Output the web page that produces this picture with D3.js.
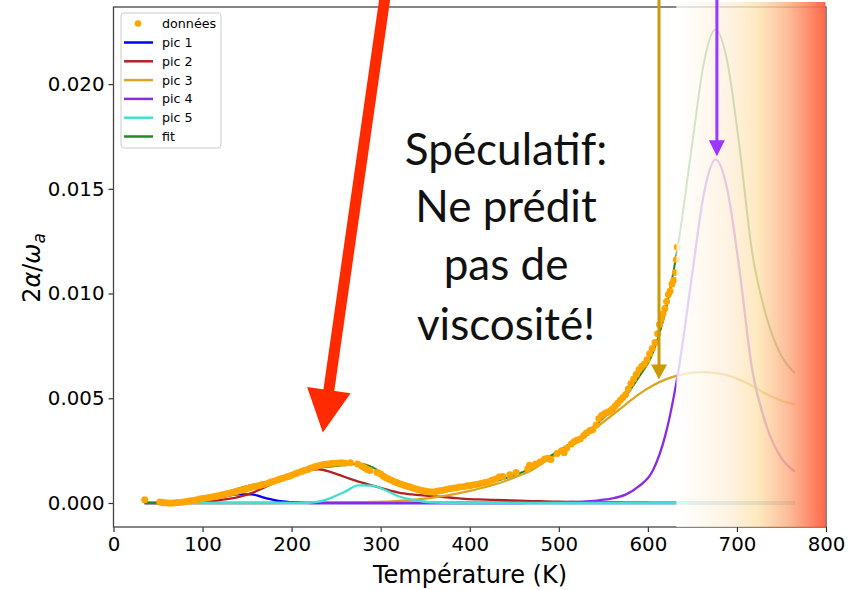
<!DOCTYPE html>
<html>
<head>
<meta charset="utf-8">
<script src="https://cdn.jsdelivr.net/npm/d3@7"></script>
<style>
body{margin:0;background:#fff}
svg{display:block}
</style>
</head>
<body>
<svg id="chart" width="852" height="590"></svg>
<script>
// grille de température commune aux pics (K)
const temps = [35,50,65,80,95,110,125,140,155,170,185,200,215,230,245,260,275,290,305,320,335,350,365,380,395,410,425,440,455,470,485,500,515,530,545,560,575,590,605,620,635,650,663,676,689,702,717,733,749,765];
const pic1 = [0,0,0.00001,0.00004,0.0001,0.0002,0.00031,0.00041,0.00041,0.00024,0.0001,0.00004,0.00001,0,0,0,0,0,0,0,0,0,0,0,0,0,0,0,0,0,0,0,0,0,0,0,0,0,0,0,0,0,0,0,0,0,0,0,0,0];
const pic2 = [0,0,0.00001,0.00002,0.00004,0.00009,0.00017,0.00028,0.00047,0.00075,0.00106,0.00135,0.00157,0.00161,0.00146,0.00124,0.00102,0.00084,0.00066,0.0005,0.00041,0.00035,0.0003,0.00025,0.0002,0.00017,0.00015,0.00013,0.00011,0.00009,0.00008,0.00006,0.00005,0.00004,0.00003,0.00003,0.00002,0.00002,0.00001,0.00001,0.00001,0,0,0,0,0,0,0,0,0];
const pic3 = [0,0,0,0,0,0,0,0,0,0,0,0.00001,0.00001,0.00002,0.00002,0.00003,0.00004,0.00005,0.00006,0.0001,0.00015,0.00021,0.0003,0.0004,0.00053,0.00068,0.00085,0.00105,0.0013,0.00158,0.002,0.0024,0.0028,0.0032,0.0037,0.0042,0.0047,0.0052,0.0056,0.0059,0.0061,0.00622,0.00625,0.0062,0.0061,0.0059,0.0056,0.0052,0.0049,0.0047];
const pic4 = [0,0,0,0,0,0,0,0,0,0,0,0,0,0,0,0,0,0,0,0,0,0,0,0,0,0,0,0,0,0.00001,0.00002,0.00003,0.00005,0.00008,0.00013,0.00022,0.0004,0.0008,0.0015,0.0033,0.0065,0.011,0.0148,0.0164,0.015,0.0114,0.0064,0.0037,0.0022,0.0015];
const pic5 = [0,0,0,0,0,0,0,0,0,0,0,0,0,0.00006,0.00026,0.00054,0.00084,0.00083,0.00062,0.00032,0.00016,0.00006,0.00002,0,0,0,0,0,0,0,0,0,0,0,0,0,0,0,0,0,0,0,0,0,0,0,0,0,0,0];
const fit = [0,0,0.00002,0.00006,0.00014,0.00029,0.00048,0.00069,0.00086,0.00097,0.00114,0.0014,0.00159,0.00169,0.00174,0.00181,0.00188,0.00172,0.00134,0.00092,0.00072,0.00062,0.00062,0.00065,0.00073,0.00085,0.001,0.00118,0.00141,0.00168,0.0021,0.00249,0.0029,0.00332,0.00386,0.00445,0.00512,0.00602,0.00711,0.00921,0.01261,0.01722,0.02105,0.0226,0.0211,0.0173,0.012,0.0089,0.0071,0.0062];

// données mesurées [T (K), 2α/ωa]
const donnees = [[35,0.00015],[52,0.00005],[55,0.00002],[58,0.00001],[61,0],[64,-0.00001],[67,0],[70,0.00001],[73,0.00002],[76,0.00003],[79,0.00005],[82,0.00007],[85,0.00009],[88,0.00011],[91,0.00013],[94,0.00016],[97,0.00019],[100,0.00021],[103,0.00023],[106,0.00025],[109,0.00027],[112,0.0003],[115,0.00032],[118,0.00035],[121,0.00038],[124,0.00041],[127,0.00044],[130,0.00047],[133,0.0005],[136,0.00053],[139,0.00056],[142,0.0006],[145,0.00063],[148,0.00066],[151,0.0007],[154,0.00074],[157,0.00077],[160,0.0008],[164,0.00084],[167,0.00088],[170,0.0009],[174,0.00096],[177,0.001],[180,0.00104],[184,0.0011],[187,0.00114],[190,0.00118],[194,0.00124],[197,0.00128],[200,0.00132],[204,0.0014],[207,0.00144],[211,0.0015],[214,0.00155],[218,0.0016],[221,0.00166],[225,0.00172],[228,0.00176],[232,0.0018],[236,0.00184],[240,0.00186],[244,0.00189],[248,0.0019],[252,0.00191],[256,0.00192],[260,0.0019],[266,0.00192],[274,0.00186],[279,0.00176],[282,0.00168],[285,0.0016],[288,0.00155],[296,0.00145],[300,0.00138],[303,0.00128],[306,0.0012],[309,0.00115],[312,0.00108],[315,0.00103],[318,0.00098],[321,0.00092],[324,0.00088],[327,0.00083],[330,0.0008],[333,0.00076],[336,0.00072],[339,0.00068],[342,0.00065],[345,0.00061],[348,0.00059],[351,0.00056],[354,0.00054],[357,0.00053],[360,0.00053],[363,0.00056],[366,0.00058],[369,0.0006],[373,0.00064],[377,0.00068],[381,0.0007],[385,0.00073],[389,0.00076],[393,0.00078],[397,0.00082],[401,0.00084],[405,0.00087],[409,0.0009],[413,0.00094],[417,0.00098],[421,0.00102],[425,0.00108],[429,0.00114],[433,0.00124],[437,0.00126],[445,0.00135],[452,0.00145],[465,0.00162],[467,0.0018],[470,0.00176],[474,0.00186],[479,0.00196],[484,0.0021],[488,0.00214],[491,0.00208],[498,0.00236],[503,0.0025],[506,0.0024],[509,0.00262],[514,0.00282],[517,0.00292],[520,0.003],[524,0.00306],[528,0.00322],[531,0.00334],[535,0.00346],[538,0.0035],[542,0.00372],[545,0.00404],[548,0.00418],[551,0.00426],[554,0.00432],[557,0.00438],[560,0.00448],[563,0.00462],[566,0.00476],[569,0.0049],[572,0.00504],[575,0.00518],[578,0.00544],[581,0.0057],[584,0.00592],[587,0.00614],[590,0.00636],[593,0.00652],[596,0.00664],[599,0.00684],[602,0.00712],[605,0.00738],[608,0.00766],[611,0.00808],[613,0.00852],[615,0.00878],[617,0.00904],[619,0.00928],[621,0.00962],[623,0.00996],[625,0.01012],[627,0.01046],[629,0.01064],[631,0.011],[632,0.01162],[633,0.01222]];

const xTicks = [0,100,200,300,400,500,600,700,800];
const yTicks = [0,0.005,0.01,0.015,0.02];
const seriesNames = ['pic 1','pic 2','pic 3','pic 4','pic 5','fit'];
const annotation = ['Spéculatif:','Ne prédit','pas de','viscosité!'];

const colors = {'pic 1':'#0000ff','pic 2':'#b22222','pic 3':'#daa520','pic 4':'#8a2be2','pic 5':'#40e0d0','fit':'#228b22'};
const seriesValues = {'pic 1':pic1,'pic 2':pic2,'pic 3':pic3,'pic 4':pic4,'pic 5':pic5,'fit':fit};

let svg = d3.select('#chart');
let x = d3.scaleLinear().domain([0, 800]).range([113.5, 826]);
let y = d3.scaleLinear().domain([-0.001146, 0.02368]).range([527, 7]);

// dégradé "zone spéculative"
let defs = svg.append('defs');
let grad = defs.append('linearGradient').attr('id','heat').attr('x1',0).attr('x2',1).attr('y1',0).attr('y2',0);
[[0,'#ffffff',0.8],[0.35,'#fef0dc',0.8],[0.55,'#fde2ae',0.8],[0.75,'#fcb088',0.85],[1,'#ff5a38',0.92]].forEach(s=>{
    grad.append('stop').attr('offset',s[0]).attr('stop-color',s[1]).attr('stop-opacity',s[2]);
});

// axes
let gx = svg.append('g').attr('transform','translate(0,527)')
    .call(d3.axisBottom(x).tickValues(xTicks).tickSize(5).tickPadding(5).tickFormat(d3.format('d')));
let gy = svg.append('g').attr('transform','translate(113.5,0)')
    .call(d3.axisLeft(y).tickValues(yTicks).tickSize(5).tickPadding(4).tickFormat(d3.format('.3f')));
[gx, gy].forEach(g=>{
    g.attr('font-family','DejaVu Sans').attr('font-size',19.8);
    g.select('.domain').remove();
    g.selectAll('line').attr('stroke','#333').attr('stroke-width',1.2);
    g.selectAll('text').attr('fill','#000');
});

// pics + fit
let plot = svg.append('g');
let line = d3.line().x((d,i)=>x(temps[i])).y(d=>y(d)).curve(d3.curveMonotoneX);
seriesNames.forEach(n=>{
    plot.append('path').datum(seriesValues[n])
        .attr('d',line).attr('fill','none')
        .attr('stroke',colors[n]).attr('stroke-width', n=='fit' ? 2 : 2.3);
});

// données
plot.selectAll('circle.pt').data(donnees).enter().append('circle')
    .attr('class','pt')
    .attr('cx',d=>x(d[0])).attr('cy',d=>y(d[1])).attr('r',3.5)
    .attr('fill','#ffa500');

// cadre
svg.append('rect').attr('x',113.5).attr('y',7).attr('width',826-113.5).attr('height',520)
    .attr('fill','none').attr('stroke','#444').attr('stroke-width',1.3);

// voile sur la zone T > 632 K
svg.append('rect').attr('x',x(632)).attr('y',2).attr('width',825.5-x(632)).attr('height',525)
    .attr('fill','url(#heat)');

// légende
let lg = svg.append('g').attr('font-family','DejaVu Sans').attr('font-size',12.7);
lg.append('rect').attr('x',121).attr('y',13).attr('width',100).attr('height',135).attr('rx',3)
    .attr('fill','#fff').attr('fill-opacity',0.8).attr('stroke','#ccc');
lg.append('circle').attr('cx',138).attr('cy',23.5).attr('r',3.3).attr('fill','#ffa500');
lg.append('text').attr('x',162).attr('y',23.5).attr('dy','0.35em').text('données');
seriesNames.forEach((n,i)=>{
    let yy = 42.5 + i*18.8;
    lg.append('line').attr('x1',124).attr('x2',153).attr('y1',yy).attr('y2',yy)
        .attr('stroke',colors[n]).attr('stroke-width',2.5);
    lg.append('text').attr('x',162).attr('y',yy).attr('dy','0.35em').text(n);
});

// libellés des axes
svg.append('text').attr('x',470).attr('y',583).attr('text-anchor','middle')
    .attr('font-family','DejaVu Sans').attr('font-size',24).text('Température (K)');
let yl = svg.append('text').attr('transform','translate(40,268) rotate(-90)')
    .attr('text-anchor','middle').attr('font-family','DejaVu Sans').attr('font-size',24);
yl.append('tspan').text('2');
yl.append('tspan').attr('font-style','italic').text('α');
yl.append('tspan').text('/');
yl.append('tspan').attr('font-style','italic').text('ω');
yl.append('tspan').attr('font-style','italic').attr('font-size',17).attr('dy',5).text('a');

// flèches
function arrow(x0, y0, x1, y1, color, w, headLen, headW){
    let dx = x1-x0, dy = y1-y0, L = Math.hypot(dx,dy);
    let ux = dx/L, uy = dy/L;
    let bx = x1-ux*headLen, by = y1-uy*headLen;
    svg.append('line').attr('x1',x0).attr('y1',y0).attr('x2',bx+ux*2).attr('y2',by+uy*2)
        .attr('stroke',color).attr('stroke-width',w);
    svg.append('path').attr('fill',color)
        .attr('d',`M${x1},${y1}L${bx-uy*headW},${by+ux*headW}L${bx+uy*headW},${by-ux*headW}Z`);
}
arrow(x(306), y(0.0245), x(235), y(0.00336), '#ff2a00', 11, 43, 22);
arrow(x(612.5), y(0.0245), x(612.5), y(0.0059), '#cc9a06', 3, 15, 8);
arrow(x(677.5), y(0.0245), x(677.5), y(0.01656), '#9b35ff', 3, 16, 8);

// annotation
let ann = svg.append('text').attr('text-anchor','middle').attr('font-family','Lato').attr('font-size',44).attr('fill','#111');
[165,222,280,340].forEach((b,i)=>{
    ann.append('tspan').attr('x',506).attr('y',b).text(annotation[i]);
});
</script>
</body>
</html>
